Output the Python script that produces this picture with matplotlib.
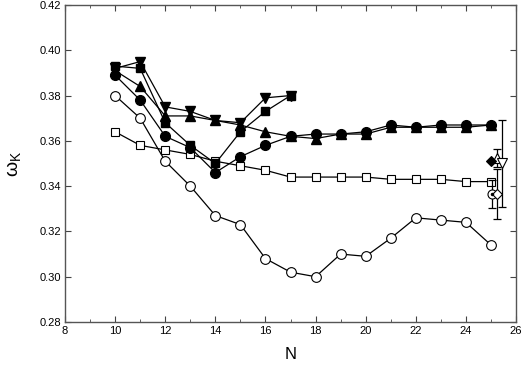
import matplotlib
matplotlib.use("Agg")
from matplotlib import pyplot as plt

plt.rcParams['font.family'] = ['Liberation Sans', 'DejaVu Sans']

N = [10, 11, 12, 13, 14, 15, 16, 17, 18, 19, 20, 21, 22, 23, 24, 25]
N_short = [10, 11, 12, 13, 14, 15, 16, 17]

open_circle = [0.380, 0.370, 0.351, 0.340, 0.327, 0.323, 0.308, 0.302,
               0.300, 0.310, 0.309, 0.317, 0.326, 0.325, 0.324, 0.314]
open_square = [0.364, 0.358, 0.356, 0.354, 0.351, 0.349, 0.347, 0.344,
               0.344, 0.344, 0.344, 0.343, 0.343, 0.343, 0.342, 0.342]
filled_circle = [0.389, 0.378, 0.362, 0.357, 0.346, 0.353, 0.358, 0.362,
                 0.363, 0.363, 0.364, 0.367, 0.366, 0.367, 0.367, 0.367]
filled_tri_up = [0.391, 0.384, 0.371, 0.371, 0.369, 0.367, 0.364, 0.362,
                 0.361, 0.363, 0.363, 0.366, 0.366, 0.366, 0.366, 0.367]
filled_square = [0.393, 0.392, 0.368, 0.358, 0.350, 0.364, 0.373, 0.380]
filled_tri_down = [0.392, 0.395, 0.375, 0.373, 0.369, 0.368, 0.379, 0.380]

# isolated estimates at the right edge: (N, value, error)
extra_N = [25.04, 25.24, 25.24, 25.42, 25.0]
extra_val = [0.3365, 0.3525, 0.3365, 0.350, 0.351]
extra_err = [0.006, 0.004, 0.011, 0.019, 0.0]
extra_marker = ['o', '^', 'D', 'v', 'D']
extra_fill = ['white', 'white', 'white', 'white', 'black']
extra_size = [6.5, 6.5, 5.5, 6.5, 5.5]

fig = plt.figure(figsize=(5.25, 3.69), dpi=100)
ax = fig.add_axes([0.1238, 0.1274, 0.8592, 0.8591])

lw = 0.9
ax.plot(N, open_circle, '-o', color='black', mfc='white', ms=7, lw=lw, mew=0.8)
ax.plot(N, open_square, '-s', color='black', mfc='white', ms=6, lw=lw, mew=0.8)
ax.plot(N, filled_circle, '-o', color='black', ms=7, lw=lw)
ax.plot(N, filled_tri_up, '-^', color='black', ms=6.5, lw=lw)
ax.plot(N_short, filled_square, '-s', color='black', ms=6, lw=lw)
ax.plot(N_short, filled_tri_down, '-v', color='black', ms=6.5, lw=lw)

for i in range(len(extra_N)):
    if extra_err[i] > 0:
        ax.errorbar(extra_N[i], extra_val[i], yerr=extra_err[i], fmt='none',
                    ecolor='black', elinewidth=0.9, capsize=3, capthick=0.9)
    ax.plot(extra_N[i], extra_val[i], marker=extra_marker[i], color='black',
            mfc=extra_fill[i], ms=extra_size[i], mew=0.8, ls='none')
# dot inside the first open circle
ax.plot(extra_N[0], extra_val[0], marker='o', color='black', ms=1.5, ls='none')

ax.set_xlim(8, 26)
ax.set_ylim(0.28, 0.42)
ax.set_xticks(range(8, 27, 2))
ax.set_xticks(range(9, 26, 2), minor=True)
ax.set_yticks([0.28, 0.30, 0.32, 0.34, 0.36, 0.38, 0.40, 0.42])
ax.set_yticklabels(['0.28', '0.30', '0.32', '0.34', '0.36', '0.38', '0.40', '0.42'])
ax.tick_params(which='both', direction='in', top=True, right=True,
               labelsize=8, colors='#444444', labelcolor='black', pad=3)
ax.tick_params(which='major', length=4)
ax.tick_params(which='minor', length=2.5)
for s in ax.spines.values():
    s.set_color('#555555')
    s.set_linewidth(1)

ax.set_xlabel('N', fontsize=12, labelpad=8)
ax.set_ylabel(r'$\mathregular{\omega_K}$', fontsize=14, labelpad=12)

fig.savefig('out.png', dpi=100)
